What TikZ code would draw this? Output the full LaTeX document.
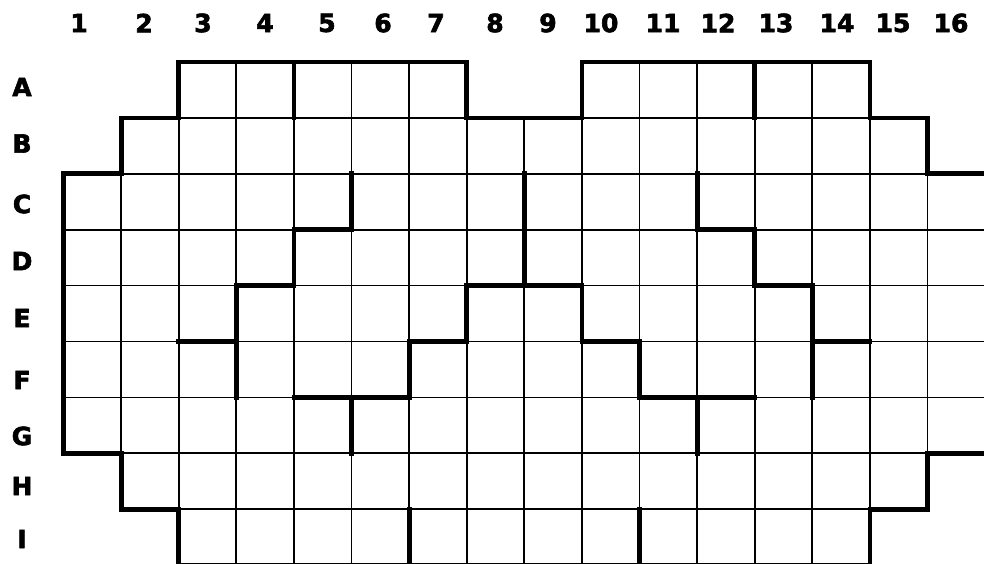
\documentclass[tikz,border=0pt]{standalone}
\usepackage{fontspec}
\setmainfont{DejaVu Sans}
\newfontfamily\labfont[FakeBold=2.5]{DejaVu Sans Bold}
\begin{document}
\begin{tikzpicture}[x=1pt,y=-1pt,
  thinline/.style={line width=1.7pt},
  thickline/.style={line width=4.8pt,line cap=rect,line join=miter},
  lab/.style={font=\labfont\fontsize{25}{25}\selectfont,inner sep=0pt,anchor=center}]
\useasboundingbox (0,0) rectangle (984,563);
\clip (0,0) rectangle (984,563);
% column labels
\foreach \n/\x in {1/79,2/144,3/203,4/265,5/327,6/383,7/436,8/495,9/548,10/601,11/663,12/718,13/776,14/837,15/893,16/951}
  \node[lab] (c\n) at (\x,23) {\n};
% row labels
\foreach \r/\y in {A/87,B/143.5,C/204,D/261,E/318,F/380,G/436,H/486,I/539}
  \node[lab] (r\r) at (22,\y) {\r};
\begin{scope}[shift={(63.5,62)},x=57.6pt,y=-55.9pt]
  % thin cell grid
  \foreach \i in {3,...,7,10,11,12,13,14} \draw[thinline] (\i-1,0) rectangle (\i,1);
  \foreach \i in {2,...,15} \draw[thinline] (\i-1,1) rectangle (\i,2);
  \foreach \j in {2,...,6} \foreach \i in {1,...,16} \draw[thinline] (\i-1,\j) rectangle (\i,\j+1);
  \foreach \i in {2,...,15} \draw[thinline] (\i-1,7) rectangle (\i,8);
  \foreach \i in {3,...,14} \draw[thinline] (\i-1,8) rectangle (\i,9);
  % outline (right edge lies outside the picture)
  \draw[thickline] (16,7)--(15,7)--(15,8)--(14,8)--(14,9)--(2,9)--(2,8)--(1,8)--(1,7)--(0,7)--(0,2)--(1,2)--(1,1)--(2,1)--(2,0)--(7,0)--(7,1)--(9,1)--(9,0)--(14,0)--(14,1)--(15,1)--(15,2)--(16,2);
  % region borders
  \draw[thickline] (4,0)--(4,1);
  \draw[thickline] (12,0)--(12,1);
  \draw[thickline] (5,2)--(5,3)--(4,3)--(4,4)--(3,4)--(3,6);
  \draw[thickline] (2,5)--(3,5);
  \draw[thickline] (4,6)--(6,6)--(6,5)--(7,5)--(7,4)--(9,4)--(9,5)--(10,5)--(10,6)--(12,6);
  \draw[thickline] (8,2)--(8,4);
  \draw[thickline] (5,6)--(5,7);
  \draw[thickline] (11,6)--(11,7);
  \draw[thickline] (11,2)--(11,3)--(12,3)--(12,4)--(13,4)--(13,6);
  \draw[thickline] (13,5)--(14,5);
  \draw[thickline] (6,8)--(6,9);
  \draw[thickline] (10,8)--(10,9);
\end{scope}
\end{tikzpicture}
\end{document}
